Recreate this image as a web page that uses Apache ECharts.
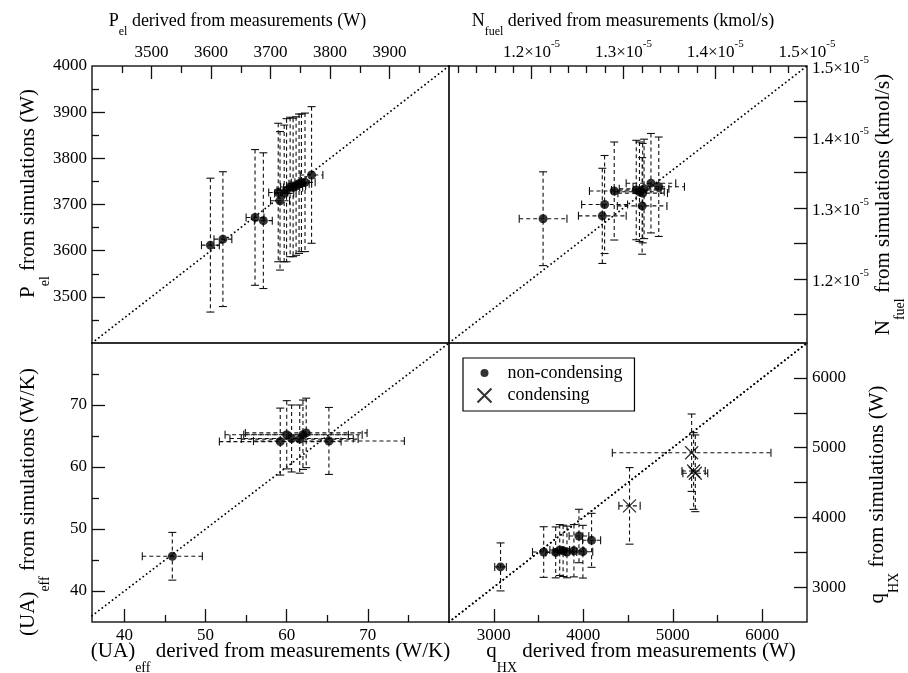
<!DOCTYPE html>
<html>
<head>
<meta charset="utf-8">
<script src="https://cdn.jsdelivr.net/npm/echarts@6/dist/echarts.min.js"></script>
<style>
html, body { margin: 0; padding: 0; background: #fff; }
#chart { width: 908px; height: 673px; }
</style>
</head>
<body>
<div id="chart"></div>
<script>
// ---- values ----
// P_el (W), measured vs simulated, with error half-widths
const pelMeas    = [3599, 3620, 3674, 3688, 3713, 3716, 3723, 3727, 3733, 3738, 3743, 3748, 3752, 3758, 3769];
const pelSim     = [3612, 3625, 3672, 3665, 3726, 3708, 3724, 3731, 3738, 3737, 3740, 3745, 3747, 3748, 3764];
const pelMeasErr = [15, 15, 15, 15, 16, 16, 16, 16, 16, 16, 16, 17, 17, 17, 19];
const pelSimErr  = [145, 146, 147, 147, 150, 150, 148, 155, 151, 150, 150, 151, 149, 150, 148];

// N_fuel (in units of 1e-5 kmol/s)
const nfuelMeas    = [1.2125, 1.277, 1.2795, 1.290, 1.314, 1.3175, 1.321, 1.3204, 1.3225, 1.330, 1.3385];
const nfuelSim     = [1.285, 1.289, 1.305, 1.324, 1.3254, 1.323, 1.321, 1.303, 1.327, 1.335, 1.330];
const nfuelMeasErr = [0.026, 0.026, 0.025, 0.027, 0.027, 0.027, 0.027, 0.027, 0.027, 0.027, 0.028];
const nfuelSimErr  = [0.066, 0.067, 0.069, 0.069, 0.070, 0.070, 0.070, 0.068, 0.070, 0.070, 0.070];

// (UA)_eff (W/K)
const uaMeas    = [45.9, 59.2, 60.0, 60.6, 61.6, 62.0, 62.4, 65.2];
const uaSim     = [45.6, 64.1, 65.2, 64.6, 64.5, 65.2, 65.5, 64.2];
const uaMeasErr = [3.7, 7.5, 7.6, 7.6, 7.2, 7.3, 7.5, 9.3];
const uaSimErr  = [3.85, 5.4, 5.5, 5.4, 5.5, 5.6, 5.6, 5.4];

// q_HX (W), non-condensing
const qMeasNC    = [3076, 3558, 3692, 3737, 3775, 3818, 3896, 3952, 3996, 4093];
const qSimNC     = [3290, 3503, 3498, 3532, 3520, 3504, 3522, 3733, 3508, 3671];
const qMeasErrNC = [65, 125, 110, 110, 110, 110, 110, 110, 110, 101];
const qSimErrNC  = [344, 363, 365, 365, 368, 370, 375, 383, 378, 387];
// q_HX (W), condensing
const qMeasC    = [4517, 5211, 5233, 5252];
const qSimC     = [4165, 4927, 4665, 4632];
const qMeasErrC = [119, 886, 130, 139];
const qSimErrC  = [549, 555, 550, 550];

// ---- axes: ranges, ticks, labels ----
const pelRange   = [3400, 4000];
const pelMajor   = [3500, 3600, 3700, 3800, 3900];
const pelMinor   = [3450, 3550, 3650, 3750, 3850, 3950];
const pelLabelsX = [3500, 3600, 3700, 3800, 3900];
const pelLabelsY = [3500, 3600, 3700, 3800, 3900, 4000];

const nfuelRange  = [1.11, 1.5];
const nfuelMajorX = [1.2, 1.3, 1.4];
const nfuelMinorX = [1.12, 1.14, 1.16, 1.18, 1.22, 1.24, 1.26, 1.28, 1.32, 1.34, 1.36, 1.38, 1.42, 1.44, 1.46, 1.48];
const nfuelTicksY = [1.15, 1.2, 1.25, 1.3, 1.35, 1.4, 1.45];
const nfuelLabels = [1.2, 1.3, 1.4, 1.5];

const uaRangeX = [36, 80];
const uaRangeY = [35, 80];
const uaMajor  = [40, 50, 60, 70];
const uaMinor  = [45, 55, 65, 75];
const uaLabels = [40, 50, 60, 70];

const qRange  = [2500, 6500];
const qMajor  = [3000, 4000, 5000, 6000];
const qMinor  = [3500, 4500, 5500];
const qTicksY = [3000, 3500, 4000, 4500, 5000, 5500, 6000];
const qLabels = [3000, 4000, 5000, 6000];

const SERIF = '"Liberation Serif", "DejaVu Serif", serif';
const chart = echarts.init(document.getElementById('chart'));

// axis titles with subscripts (big for bottom/sides, a bit smaller on top)
const nameRich = {
    t: { fontFamily: SERIF, fontSize: 21, color: '#000', lineHeight: 23, verticalAlign: 'top' },
    s: { fontFamily: SERIF, fontSize: 14, color: '#000', lineHeight: 34, verticalAlign: 'bottom' }
};
const topNameRich = {
    t: { fontFamily: SERIF, fontSize: 18, color: '#000', lineHeight: 20, verticalAlign: 'top' },
    s: { fontFamily: SERIF, fontSize: 12, color: '#000', lineHeight: 26, verticalAlign: 'bottom' }
};
const expRich = {
    m: { fontFamily: SERIF, fontSize: 17, color: '#000', lineHeight: 22, verticalAlign: 'bottom' },
    e: { fontFamily: SERIF, fontSize: 11, color: '#000', lineHeight: 10, verticalAlign: 'top' }
};
const expFmt = v => '{m|' + v.toFixed(1) + '×10}{e|-5}';

// main axis (big ticks, labels, name) + a twin for the small ticks
function axes(grid, pos, range, major, minor, labels, name, nameGap, namePad, fmt) {
    const rich = pos === 'top' ? topNameRich : nameRich;
    const main = {
        type: 'value', gridIndex: grid, position: pos, min: range[0], max: range[1],
        axisLine: { show: false, onZero: false },
        splitLine: { show: false },
        axisTick: { show: true, inside: true, length: 13, customValues: major, lineStyle: { color: '#111', width: 1.3 } },
        axisLabel: {
            show: true, customValues: labels, margin: 5, color: '#000',
            fontFamily: SERIF, fontSize: 17, formatter: fmt || (v => String(v)), rich: expRich
        },
        name: name, nameLocation: 'middle', nameGap: nameGap, nameMoveOverlap: false,
        nameTextStyle: { fontFamily: SERIF, fontSize: rich.t.fontSize, color: '#000', rich: rich, padding: namePad }
    };
    const twin = {
        type: 'value', gridIndex: grid, position: pos, min: range[0], max: range[1],
        axisLine: { show: false, onZero: false },
        splitLine: { show: false },
        axisTick: { show: minor.length > 0, inside: true, length: 7, customValues: minor, lineStyle: { color: '#111', width: 1.3 } },
        axisLabel: { show: false }
    };
    return [main, twin];
}

const xAxis = [].concat(
    axes(0, 'top', pelRange, pelMajor, pelMinor, pelLabelsX, '{t|P}{s|el}{t| derived from measurements (W)}', 28, [0, 66, 0, 0]),
    axes(1, 'top', nfuelRange, nfuelMajorX, nfuelMinorX, nfuelLabels, '{t|N}{s|fuel}{t| derived from measurements (kmol/s)}', 28, [0, 10, 0, 0], expFmt),
    axes(2, 'bottom', uaRangeX, uaMajor, uaMinor, uaLabels, '{t|(UA)}{s|eff}{t| derived from measurements (W/K)}', 19, [0, 0, 0, 0]),
    axes(3, 'bottom', qRange, qMajor, qMinor, qLabels, '{t|q}{s|HX}{t| derived from measurements (W)}', 19, [0, 0, 0, 26])
);
const yAxis = [].concat(
    axes(0, 'left', pelRange, pelMajor, pelMinor, pelLabelsY, '{t|P}{s|el}{t| from simulations (W)}', 40, [0, 0, 0, 22]),
    axes(1, 'right', nfuelRange, nfuelTicksY, [], nfuelLabels, '{t|N}{s|fuel}{t| from simulations (kmol/s)}', 66, [0, 0, 0, 0], expFmt),
    axes(2, 'left', uaRangeY, uaMajor, uaMinor, uaLabels, '{t|(UA)}{s|eff}{t| from simulations (W/K)}', 40, [0, 39, 0, 0]),
    axes(3, 'right', qRange, qTicksY, [], qLabels, '{t|q}{s|HX}{t| from simulations (W)}', 60, [0, 24, 0, 0])
);

const gridBox = { show: true, borderColor: '#222', borderWidth: 1.5, backgroundColor: 'transparent', containLabel: false, outerBoundsMode: 'none' };
const grid = [
    Object.assign({ left: 92, top: 66, width: 357, height: 277 }, gridBox),
    Object.assign({ left: 449, top: 66, width: 358, height: 277 }, gridBox),
    Object.assign({ left: 92, top: 343, width: 357, height: 279 }, gridBox),
    Object.assign({ left: 449, top: 343, width: 358, height: 279 }, gridBox)
];

function errorBars(params, api) {
    const x = api.value(0), y = api.value(1), ex = api.value(2), ey = api.value(3);
    const c = api.coord([x, y]);
    const l = api.coord([x - ex, y]), r = api.coord([x + ex, y]);
    const t = api.coord([x, y + ey]), b = api.coord([x, y - ey]);
    const cap = 4;
    const dash = { stroke: '#111', lineWidth: 1.1, lineDash: [4, 3], fill: null };
    const solid = { stroke: '#111', lineWidth: 1.1, fill: null };
    return {
        type: 'group',
        children: [
            { type: 'line', shape: { x1: l[0], y1: c[1], x2: r[0], y2: c[1] }, style: dash },
            { type: 'line', shape: { x1: c[0], y1: t[1], x2: c[0], y2: b[1] }, style: dash },
            { type: 'line', shape: { x1: l[0], y1: c[1] - cap, x2: l[0], y2: c[1] + cap }, style: solid },
            { type: 'line', shape: { x1: r[0], y1: c[1] - cap, x2: r[0], y2: c[1] + cap }, style: solid },
            { type: 'line', shape: { x1: c[0] - cap, y1: t[1], x2: c[0] + cap, y2: t[1] }, style: solid },
            { type: 'line', shape: { x1: c[0] - cap, y1: b[1], x2: c[0] + cap, y2: b[1] }, style: solid }
        ]
    };
}

const rows = (xs, ys, exs, eys) => xs.map((v, i) => [v, ys[i], exs[i], eys[i]]);
const CROSS = 'path://M0,0L10,10M10,0L0,10';

function panel(g, name, xs, ys, exs, eys, range, marker) {
    const out = [
        {
            type: 'line', xAxisIndex: 2 * g, yAxisIndex: 2 * g, silent: true,
            showSymbol: false, symbol: 'none', z: 1,
            lineStyle: { color: '#000', width: 1.8, type: [0.1, 4.2], cap: 'round' },
            data: [[range[0], range[0]], [range[1], range[1]]]
        },
        {
            type: 'custom', xAxisIndex: 2 * g, yAxisIndex: 2 * g, z: 2,
            renderItem: errorBars, encode: { x: 0, y: 1 },
            data: rows(xs, ys, exs, eys)
        }
    ];
    out.push(Object.assign({
        type: 'scatter', name: name, xAxisIndex: 2 * g, yAxisIndex: 2 * g, z: 3,
        data: xs.map((v, i) => [v, ys[i]])
    }, marker));
    return out;
}

const dot = { symbol: 'circle', symbolSize: 9, itemStyle: { color: '#000' } };
const cross = { symbol: CROSS, symbolSize: 13, itemStyle: { color: 'none', borderColor: '#000', borderWidth: 1.3 } };

const series = [].concat(
    panel(0, 'pel', pelMeas, pelSim, pelMeasErr, pelSimErr, pelRange, dot),
    panel(1, 'nfuel', nfuelMeas, nfuelSim, nfuelMeasErr, nfuelSimErr, nfuelRange, dot),
    panel(2, 'ua', uaMeas, uaSim, uaMeasErr, uaSimErr, uaRangeX, dot),
    panel(3, 'non-condensing', qMeasNC, qSimNC, qMeasErrNC, qSimErrNC, qRange, dot),
    panel(3, 'condensing', qMeasC, qSimC, qMeasErrC, qSimErrC, qRange, cross)
);

chart.setOption({
    backgroundColor: '#fff',
    animation: false,
    grid: grid,
    xAxis: xAxis,
    yAxis: yAxis,
    legend: {
        orient: 'vertical', left: 463, top: 358,
        data: [
            { name: 'non-condensing', icon: 'path://M0,0M14,14M11,7A4,4,0,1,1,3,7A4,4,0,1,1,11,7Z' },
            { name: 'condensing', icon: 'path://M0,0L14,14M14,0L0,14' }
        ],
        itemWidth: 36, itemHeight: 14, itemGap: 4,
        padding: [6, 12, 6, 12],
        borderColor: '#000', borderWidth: 1.2, backgroundColor: '#fff',
        selectedMode: false,
        textStyle: { fontFamily: SERIF, fontSize: 18, color: '#000' }
    },
    series: series
});
</script>
</body>
</html>
